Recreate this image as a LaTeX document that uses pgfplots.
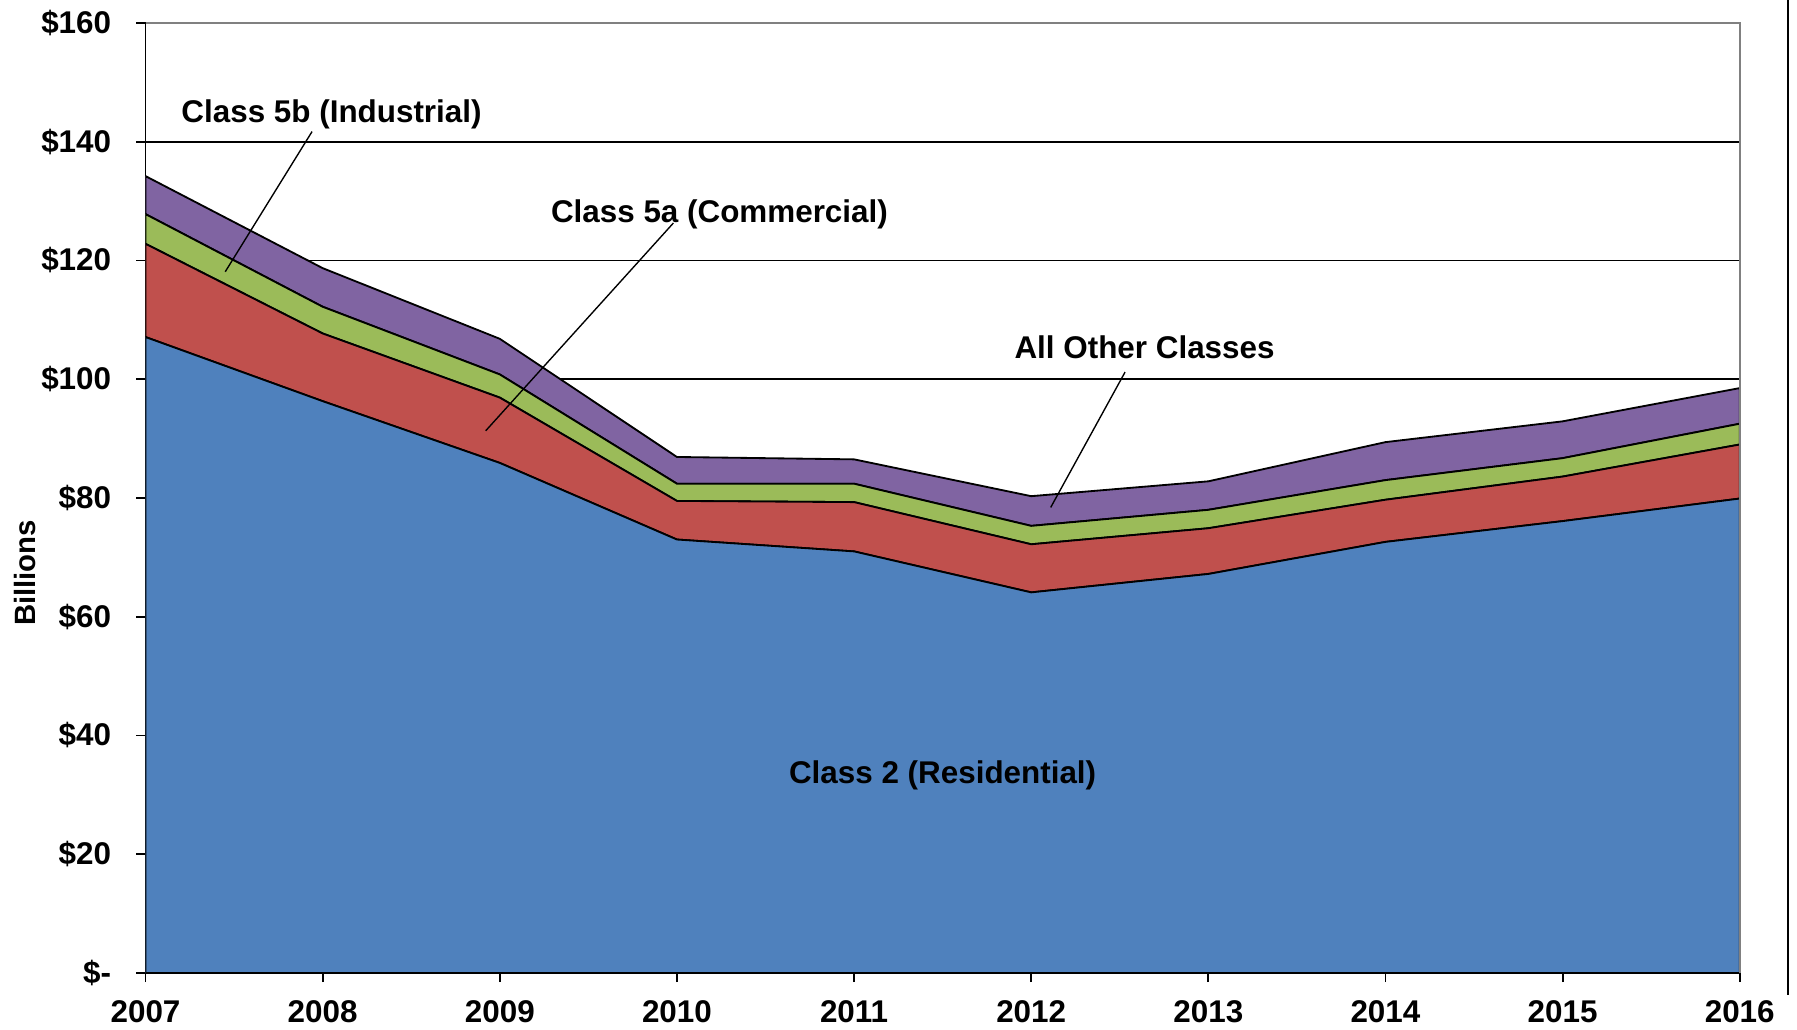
\documentclass[border=0pt]{standalone}
\usepackage{pgfplots}
\pgfplotsset{compat=1.18}
\usepackage{fontspec}
\setmainfont{Liberation Sans}
\definecolor{cblue}{HTML}{4F81BD}
\definecolor{cred}{HTML}{C0504D}
\definecolor{cgreen}{HTML}{9BBB59}
\definecolor{cpurple}{HTML}{8064A2}
\begin{document}
\begin{tikzpicture}
\begin{axis}[
  name=ax,
  scale only axis,
  width=695.5pt, height=414.5pt,
  xmin=2007, xmax=2016, ymin=0, ymax=160,
  stack plots=y,
  axis x line*=bottom, axis y line*=left,
  x axis line style={line width=1.3pt, -},
  y axis line style={line width=0.8pt, -},
  xtick={2007,2008,2009,2010,2011,2012,2013,2014,2015,2016},
  xticklabels={2007,2008,2009,2010,2011,2012,2013,2014,2015,2016},
  ytick={0,20,40,60,80,100,120,140,160},
  yticklabels={\$-,\$20,\$40,\$60,\$80,\$100,\$120,\$140,\$160},
  tick align=outside, major tick length=4pt,
  tick style={black, line width=0.8pt},
  ymajorgrids, grid style={black, line width=0.8pt},
  tick label style={font=\bfseries\fontsize{13.7}{16}\selectfont},
  x tick label style={yshift=-4.5pt},
  y tick label style={xshift=-7.5pt},
  ylabel={Billions},
  every axis y label/.style={at={(axis description cs:-0.0755,0.421)}, rotate=90, anchor=center, font=\bfseries\fontsize{12.8}{15}\selectfont},
  every axis plot/.append style={draw=black, line width=0.8pt},
]
\addplot[fill=cblue] coordinates {(2007,107.1) (2008,96.3) (2009,85.9) (2010,73.0) (2011,71.0) (2012,64.1) (2013,67.2) (2014,72.6) (2015,76.1) (2016,79.9)} \closedcycle;
\addplot[fill=cred] coordinates {(2007,15.7) (2008,11.4) (2009,11.0) (2010,6.5) (2011,8.3) (2012,8.1) (2013,7.7) (2014,7.1) (2015,7.5) (2016,9.1)} \closedcycle;
\addplot[fill=cgreen] coordinates {(2007,5.0) (2008,4.5) (2009,3.9) (2010,2.9) (2011,3.1) (2012,3.1) (2013,3.1) (2014,3.3) (2015,3.1) (2016,3.5)} \closedcycle;
\addplot[fill=cpurple] coordinates {(2007,6.4) (2008,6.5) (2009,6.0) (2010,4.5) (2011,4.1) (2012,5.0) (2013,4.8) (2014,6.4) (2015,6.2) (2016,6.0)} \closedcycle;
\coordinate (tl) at (rel axis cs:0,1);
\coordinate (tr) at (rel axis cs:1,1);
\coordinate (br) at (rel axis cs:1,0);
\coordinate (a1) at (axis cs:2007.94,141.7);
\coordinate (b1) at (axis cs:2007.45,118.1);
\coordinate (a2) at (axis cs:2009.98,126.3);
\coordinate (b2) at (axis cs:2008.92,91.3);
\coordinate (a3) at (axis cs:2012.53,101.2);
\coordinate (b3) at (axis cs:2012.11,78.4);
\coordinate (t1) at (axis cs:2008.05,144.6);
\coordinate (t2) at (axis cs:2010.24,127.8);
\coordinate (t3) at (axis cs:2012.64,105.4);
\coordinate (t4) at (axis cs:2011.50,33.2);
\end{axis}
\draw[gray, line width=0.8pt] (tl) -- (tr) -- (br);
\draw[black, line width=0.6pt] (a1) -- (b1);
\draw[black, line width=0.6pt] (a2) -- (b2);
\draw[black, line width=0.6pt] (a3) -- (b3);
\node[font=\bfseries\fontsize{13.7}{16}\selectfont] at (t1) {Class 5b (Industrial)};
\node[font=\bfseries\fontsize{13.7}{16}\selectfont] at (t2) {Class 5a (Commercial)};
\node[font=\bfseries\fontsize{13.7}{16}\selectfont] at (t3) {All Other Classes};
\node[font=\bfseries\fontsize{13.7}{16}\selectfont] at (t4) {Class 2 (Residential)};
\draw[black, line width=0.8pt] ([xshift=21pt,yshift=10pt]ax.north east) -- ([xshift=21pt,yshift=-9.5pt]ax.south east);
\pgfresetboundingbox
\useasboundingbox ([xshift=-63.5pt,yshift=-24.5pt]ax.south west) rectangle ([xshift=25pt,yshift=10pt]ax.north east);
\end{tikzpicture}
\end{document}
